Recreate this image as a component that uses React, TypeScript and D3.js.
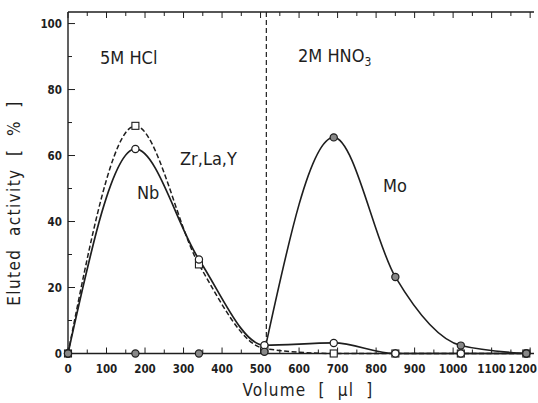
import React from "react";
import { scaleLinear, line, curveMonotoneX, range } from "d3";

// volumes where fractions were taken (µl)
const volumes = [0, 175, 340, 510, 690, 850, 1020, 1190];
// eluted activity [%]
const zrLaY = [0, 69, 27, 1.5, 0, 0, 0, 0];
const nb = [0, 62, 28.5, 2.5, 3.2, 0, 0, 0];
const mo = [0, 0, 0, 0.5, 65.5, 23.2, 2.4, 0];

const xTicks = [0, 100, 200, 300, 400, 500, 600, 700, 800, 900, 1000, 1100, 1200];
const yTicks = [0, 20, 40, 60, 80, 100];
const switchVolume = 515; // HCl -> HNO3

const W = 538;
const H = 403;
const font = "'DejaVu Sans Condensed', 'DejaVu Sans', sans-serif";
const ink = "#1e1e1e";

const x = scaleLinear().domain([0, 1210]).range([68, 534]);
const y = scaleLinear().domain([0, 103.5]).range([353.5, 12]);

const App = () => {
  const pts = (vals: number[]) => volumes.map((v, i) => [v, vals[i]] as [number, number]);
  const curve = line<[number, number]>()
    .x((d) => x(d[0]))
    .y((d) => y(d[1]))
    .curve(curveMonotoneX);

  const x0 = x(0);
  const y0 = y(0);
  const yTop = y(103.5);
  const xEnd = x(1210);

  const minorX = range(0, 1201, 50);
  const minorY = range(0, 101, 10);

  return (
    <svg width={W} height={H} style={{ position: "absolute", left: 0, top: 0, background: "#fff" }}>
      {/* frame: left, top, bottom */}
      <g stroke={ink} strokeWidth={1.4} fill="none">
        <line x1={x0} x2={x0} y1={yTop} y2={y0} />
        <line x1={x0} x2={xEnd} y1={yTop} y2={yTop} />
        <line x1={x0} x2={xEnd} y1={y0} y2={y0} />
      </g>

      {/* ticks */}
      <g stroke={ink} strokeWidth={1}>
        {minorX.map((v) => {
          const len = v % 100 === 0 ? 6 : 4;
          return (
            <g key={"xt" + v}>
              <line x1={x(v)} x2={x(v)} y1={y0} y2={y0 - len} />
              <line x1={x(v)} x2={x(v)} y1={yTop} y2={yTop + len} />
            </g>
          );
        })}
        {minorY.map((v) => (
          <line key={"yt" + v} x1={x0} x2={x0 + (v % 20 === 0 ? 7 : 4)} y1={y(v)} y2={y(v)} />
        ))}
      </g>

      {/* tick labels */}
      <g fill={ink} fontFamily={font} fontSize={11.5} fontWeight="bold">
        {xTicks.map((v) => (
          <text
            key={"xl" + v}
            x={v === 1200 ? 537 : x(v)}
            y={373}
            textAnchor={v === 1200 ? "end" : "middle"}
          >
            {v}
          </text>
        ))}
        {yTicks.map((v) => (
          <text key={"yl" + v} x={62} y={y(v) + 4} textAnchor="end">
            {v}
          </text>
        ))}
      </g>

      {/* axis titles */}
      <text
        x={308}
        y={396}
        textAnchor="middle"
        fontFamily={font}
        fontSize={17}
        letterSpacing={1.2}
        fill={ink}
        style={{ whiteSpace: "pre" }}
      >
        {"Volume  [  µl  ]"}
      </text>
      <text
        transform={`translate(20,203) rotate(-90)`}
        textAnchor="middle"
        fontFamily={font}
        fontSize={17}
        letterSpacing={1.4}
        fill={ink}
        style={{ whiteSpace: "pre" }}
      >
        {"Eluted  activity  [  %  ]"}
      </text>

      {/* eluent change */}
      <line
        x1={x(switchVolume)}
        x2={x(switchVolume)}
        y1={yTop}
        y2={y0}
        stroke={ink}
        strokeWidth={1.2}
        strokeDasharray="5,3"
      />

      {/* curves */}
      <path d={curve(pts(zrLaY)) || ""} fill="none" stroke={ink} strokeWidth={1.5} strokeDasharray="5,2.5" />
      <path d={curve(pts(nb)) || ""} fill="none" stroke={ink} strokeWidth={1.7} />
      <path d={curve(pts(mo).slice(3)) || ""} fill="none" stroke={ink} strokeWidth={1.6} />

      {/* markers */}
      {pts(zrLaY).map((d, i) => (
        <rect
          key={"zs" + i}
          x={x(d[0]) - 3.5}
          y={y(d[1]) - 3.5}
          width={7}
          height={7}
          fill="#fff"
          stroke={ink}
          strokeWidth={1.1}
        />
      ))}
      {pts(nb).map((d, i) => (
        <circle key={"nc" + i} cx={x(d[0])} cy={y(d[1])} r={3.6} fill="#fff" stroke={ink} strokeWidth={1.2} />
      ))}
      {pts(mo).map((d, i) => (
        <circle key={"mc" + i} cx={x(d[0])} cy={y(d[1])} r={3.6} fill="#888" stroke={ink} strokeWidth={1.2} />
      ))}

      {/* annotations */}
      <g fontFamily={font} fill={ink} fontSize={18} style={{ whiteSpace: "pre" }}>
        <text x={100} y={64}>{"5M  HCl"}</text>
        <text x={298} y={62}>
          {"2M  HNO"}
          <tspan fontSize={12} dy={4}>3</tspan>
        </text>
        <text x={180} y={165}>Zr,La,Y</text>
        <text x={137} y={199}>Nb</text>
        <text x={383} y={192}>Mo</text>
      </g>
    </svg>
  );
};

export default App;
